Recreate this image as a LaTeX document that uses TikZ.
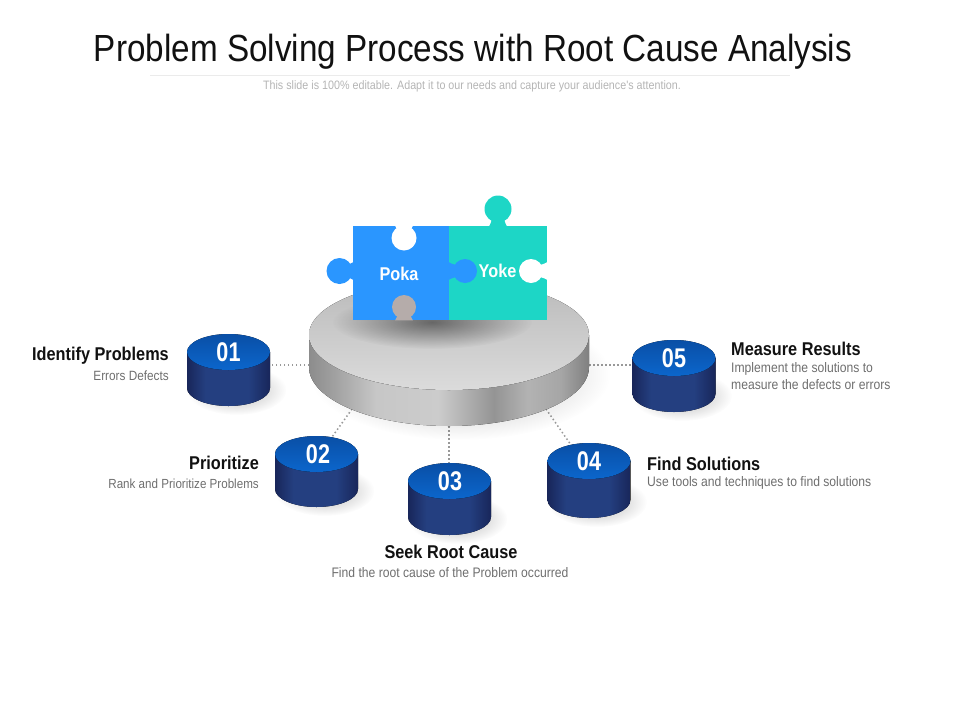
\documentclass[tikz,border=0pt]{standalone}
\usepackage{fontspec}
\setmainfont{Liberation Sans}
\newfontfamily\narrowfont[FakeStretch=0.88]{Liberation Sans}
\newfontfamily\numfont[FakeStretch=0.8]{Liberation Sans}
\usetikzlibrary{positioning,fadings}
\definecolor{pokablue}{HTML}{2A96FF}
\definecolor{yoketeal}{HTML}{1DD6C6}
\definecolor{holegray}{HTML}{B5ACAA}
\definecolor{titleblack}{HTML}{111111}
\definecolor{subgray}{HTML}{6E6E6E}
\definecolor{notegray}{HTML}{B4B4B4}
\definecolor{discedge}{HTML}{18265A}
\definecolor{discmid}{HTML}{243F80}
\definecolor{disctop}{HTML}{0A4FA6}
\definecolor{discfront}{HTML}{0B66CC}
\pgfdeclarehorizontalshading{platterside}{100bp}{color(0bp)=(black!45);color(25bp)=(black!45);color(29bp)=(black!38);color(37bp)=(black!22);color(48bp)=(black!20);color(58bp)=(black!42);color(64bp)=(black!30);color(70bp)=(black!35);color(75bp)=(black!50);color(100bp)=(black!50)}
\pgfdeclarehorizontalshading{discside}{100bp}{color(0bp)=(discedge);color(25bp)=(discedge);color(36bp)=(discmid);color(62bp)=(discmid);color(75bp)=(discedge);color(100bp)=(discedge)}
\tikzfading[name=softdisc,inner color=transparent!70,outer color=transparent!100]
\tikzfading[name=darkdisc,inner color=transparent!52,outer color=transparent!100]
\tikzset{
  heading/.style={font=\narrowfont\bfseries\fontsize{18.5}{20}\selectfont,text=titleblack,inner sep=0pt},
  detail/.style={font=\narrowfont\fontsize{13.8}{20.5}\selectfont,text=subgray,inner sep=0pt},
  discnum/.style={font=\numfont\bfseries\fontsize{27}{27}\selectfont,text=white,inner sep=0pt},
  piecename/.style={font=\narrowfont\bfseries\fontsize{18.5}{20}\selectfont,text=white,inner sep=0pt},
  dotline/.style={draw=black!40,line width=1.5pt,dash pattern=on 1.5pt off 2.5pt},
  softshadow/.style={fill=black,path fading=softdisc}
}
% tab of a puzzle piece: colour, x, y on the edge, direction, reach, radius
\newcommand{\puzzletab}[6]{
  \begin{scope}[shift={(#2,#3)},rotate=#4]
    \fill[#1] (-0.4,-9) .. controls (1.5,-8) and (3,-6) .. (#5,-5) -- (#5,5) .. controls (3,6) and (1.5,8) .. (-0.4,9) -- cycle;
    \fill[#1] (#5,0) circle[radius=#6pt];
  \end{scope}
}
\begin{document}
\begin{tikzpicture}[x=1pt,y=-1pt]
    \useasboundingbox (0,0) rectangle (960,720);

    \node [font=\narrowfont\fontsize{37.8}{40}\selectfont,text=titleblack,inner sep=0pt] (title) at (473,52) {Problem Solving Process with Root Cause Analysis};
    \fill [black!8] (150,74.6) rectangle (790,75.4);
    \node [font=\narrowfont\fontsize{12.2}{14}\selectfont,text=notegray,inner sep=0pt] (note) at (472,86.5) {This slide is 100\% editable. Adapt it to our needs and capture your audience's attention.};

    % named ends of the connectors
    \coordinate (plate1) at (309,365);
    \coordinate (plate2) at (352,409);
    \coordinate (plate3) at (449,426);
    \coordinate (plate4) at (546,409);
    \coordinate (plate5) at (589,365);
    \coordinate (disc1) at (271,365);
    \coordinate (disc2) at (332,437);
    \coordinate (disc3) at (449,464);
    \coordinate (disc4) at (571,445);
    \coordinate (disc5) at (632,365);
    \foreach \n in {1,...,5}
        \draw [dotline] (plate\n) -- (disc\n);

    % platter
    \fill [softshadow] (460,375) circle[x radius=150pt,y radius=65pt];
    \fill [shading=platterside] (309,335) -- (309,367) arc[start angle=180,end angle=360,x radius=140pt,y radius=59pt] -- (589,335) -- cycle;
    \fill [top color=black!27,bottom color=black!14] (449,335) circle[x radius=140pt,y radius=55pt];
    \fill [fill=black,path fading=darkdisc] (432,322) circle[x radius=100pt,y radius=27pt];

    % discs
    \foreach \n/\cx/\ctop/\cbot/\nx/\num in {1/228.5/352/388/228.5/01,2/316.5/454/489/318/02,3/449.5/481/517/450/03,4/589/461/500/589/04,5/674/358/394/674/05} {
        \fill [softshadow] (\cx+8,\cbot+2) circle[x radius=50pt,y radius=25pt];
        \fill [shading=discside] (\cx-41.5,\ctop) -- (\cx-41.5,\cbot) arc[start angle=180,end angle=360,x radius=41.5pt,y radius=18pt] -- (\cx+41.5,\ctop) -- cycle;
        \fill [top color=disctop,bottom color=discfront] (\cx,\ctop) circle[x radius=41.5pt,y radius=18pt];
        \node [discnum] (num\n) at (\nx,\ctop) {\num};
    }

    % puzzle
    \fill [yoketeal] (449,226) rectangle (547,320);
    \puzzletab{yoketeal}{498}{226}{90}{17}{13.5}
    \fill [pokablue] (353,226) rectangle (449,320);
    \puzzletab{pokablue}{353}{271}{180}{13.5}{13}
    \puzzletab{pokablue}{449}{271}{0}{16}{12}
    \puzzletab{white}{404}{226}{-90}{12}{12.5}
    \puzzletab{holegray}{404}{320}{90}{13}{12}
    \puzzletab{white}{547}{271}{180}{16}{12}
    \node [piecename] (poka) at (399,273.5) {Poka};
    \node [piecename] (yoke) at (497.5,270.5) {Yoke};

    % labels
    \node [heading,anchor=east] (head1) at (169,356) {Identify Problems};
    \node [detail,anchor=east,font=\narrowfont\fontsize{13.4}{20}\selectfont] (text1) at (169,376) {Errors Defects};
    \node [heading,anchor=east] (head2) at (259,463) {Prioritize};
    \node [detail,anchor=east,font=\narrowfont\fontsize{13.2}{20}\selectfont] (text2) at (259,484) {Rank and Prioritize Problems};
    \node [heading] (head3) at (451,552) {Seek Root Cause};
    \node [detail] (text3) at (450,573) {Find the root cause of the Problem occurred};
    \node [heading,anchor=west] (head4) at (647,464) {Find Solutions};
    \node [detail,anchor=west] (text4) at (647,483) {Use tools and techniques to find solutions};
    \node [heading,anchor=west] (head5) at (731,349) {Measure Results};
    \node [detail,anchor=north west,align=left,font=\narrowfont\fontsize{13.8}{17}\selectfont] (text5) at (731,362) {Implement the solutions to\\measure the defects or errors};
\end{tikzpicture}
\end{document}
